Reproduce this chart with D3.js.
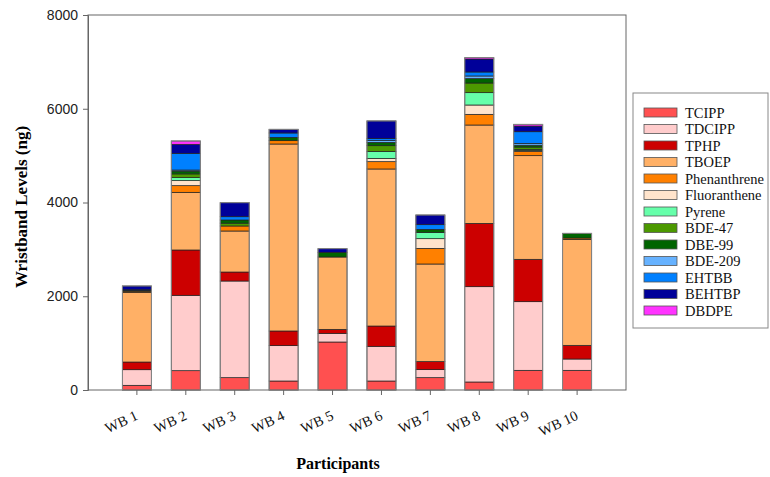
<!DOCTYPE html>
<html>
<head>
<meta charset="utf-8">
<script src="https://cdn.jsdelivr.net/npm/d3@7"></script>
<style>
    body { margin: 0; background: #fff; }
    svg { display: block; }
</style>
</head>
<body>
<svg id="canvas" width="770" height="477"></svg>
<script>
// participants and compounds
const participants = ["WB 1", "WB 2", "WB 3", "WB 4", "WB 5", "WB 6", "WB 7", "WB 8", "WB 9", "WB 10"];
const compounds = ["TCIPP", "TDCIPP", "TPHP", "TBOEP", "Phenanthrene", "Fluoranthene", "Pyrene",
                   "BDE-47", "DBE-99", "BDE-209", "EHTBB", "BEHTBP", "DBDPE"];
const colors = ["#ff5050", "#ffcccc", "#cc0000", "#ffb066", "#ff8000", "#ffe4cc", "#66ffaa",
                "#4c9900", "#006400", "#66b2ff", "#0080ff", "#000099", "#ff33ff"];

// levels in ng, one value per participant
const TCIPP        = [100, 412, 263, 192, 1024, 192, 263, 171, 420, 420];
const TDCIPP       = [333, 1608, 2062, 754, 185, 740, 171, 2033, 1464, 241];
const TPHP         = [164, 967, 192, 313, 85, 433, 171, 1351, 904, 292];
const TBOEP        = [1487, 1230, 875, 3989, 1543, 3350, 2083, 2098, 2211, 2261];
const Phenanthrene = [25, 142, 107, 71, 0, 156, 334, 228, 93, 28];
const Fluoranthene = [0, 107, 0, 0, 0, 71, 206, 199, 20, 0];
const Pyrene       = [0, 64, 0, 0, 0, 149, 135, 263, 20, 0];
const BDE47        = [5, 80, 60, 0, 0, 121, 0, 206, 50, 0];
const DBE99        = [15, 60, 68, 71, 100, 71, 64, 93, 40, 100];
const BDE209       = [0, 23, 0, 0, 0, 40, 0, 57, 40, 0];
const EHTBB        = [10, 356, 70, 93, 0, 40, 100, 85, 248, 0];
const BEHTBP       = [80, 192, 299, 78, 78, 377, 206, 277, 121, 0];
const DBDPE        = [0, 71, 0, 0, 0, 0, 0, 29, 36, 0];

const series = [TCIPP, TDCIPP, TPHP, TBOEP, Phenanthrene, Fluoranthene, Pyrene,
                BDE47, DBE99, BDE209, EHTBB, BEHTBP, DBDPE];
const yTicks = [0, 2000, 4000, 6000, 8000];

const rows = participants.map((p, i) => {
    const row = {participant: p};
    compounds.forEach((c, j) => { row[c] = series[j][i]; });
    return row;
});

const svg = d3.select('#canvas');
const plotLeft = 88, plotRight = 626, plotTop = 15, plotBottom = 390;

const x = d3.scaleBand()
    .domain(participants)
    .range([plotLeft, plotRight])
    .paddingInner(0.407)
    .paddingOuter(0.703);

const y = d3.scaleLinear()
    .domain([0, 8000])
    .range([plotBottom, plotTop]);

const color = d3.scaleOrdinal().domain(compounds).range(colors);

const stacked = d3.stack().keys(compounds)(rows);

// frame
svg.append('rect')
    .attr('x', plotLeft).attr('y', plotTop)
    .attr('width', plotRight - plotLeft).attr('height', plotBottom - plotTop)
    .attr('fill', 'none')
    .attr('stroke', '#666')
    .attr('stroke-width', 1);

// bars
const layers = svg.append('g')
    .selectAll('g')
    .data(stacked)
    .join('g')
    .attr('fill', d => color(d.key));

layers.selectAll('rect')
    .data(d => d.filter(s => s[1] - s[0] > 0))
    .join('rect')
    .attr('x', d => x(d.data.participant))
    .attr('y', d => y(d[1]))
    .attr('width', x.bandwidth())
    .attr('height', d => y(d[0]) - y(d[1]))
    .attr('stroke', '#222')
    .attr('stroke-width', 0.7);

// outline of each bar
svg.append('g')
    .selectAll('rect')
    .data(rows)
    .join('rect')
    .attr('x', d => x(d.participant))
    .attr('y', d => y(d3.sum(compounds, c => d[c])))
    .attr('width', x.bandwidth())
    .attr('height', d => y(0) - y(d3.sum(compounds, c => d[c])))
    .attr('fill', 'none')
    .attr('stroke', '#888')
    .attr('stroke-width', 1);

// y axis
const yAxis = svg.append('g')
    .attr('transform', `translate(${plotLeft},0)`)
    .call(d3.axisLeft(y).tickValues(yTicks).tickSize(5).tickPadding(5).tickFormat(d3.format('d')));
yAxis.select('.domain').attr('stroke', '#666');
yAxis.selectAll('line').attr('stroke', '#666');
yAxis.selectAll('text')
    .attr('font-family', 'Liberation Sans, Arial, sans-serif')
    .attr('font-size', 14)
    .attr('fill', '#222');

// x axis
const xAxis = svg.append('g')
    .attr('transform', `translate(0,${plotBottom})`)
    .call(d3.axisBottom(x).tickSize(5).tickSizeOuter(0));
xAxis.select('.domain').remove();
xAxis.selectAll('line').attr('stroke', '#666');
xAxis.selectAll('text')
    .attr('font-family', 'Liberation Serif, Times New Roman, serif')
    .attr('font-size', 14.5)
    .attr('fill', '#111')
    .attr('text-anchor', 'end')
    .attr('transform', 'translate(2,29) rotate(-25)')
    .attr('y', 0)
    .attr('dy', 0);

// axis titles
svg.append('text')
    .attr('transform', 'translate(27,207) rotate(-90)')
    .attr('text-anchor', 'middle')
    .attr('font-family', 'Liberation Serif, Times New Roman, serif')
    .attr('font-weight', 'bold')
    .attr('font-size', 17)
    .text('Wristband Levels (ng)');

svg.append('text')
    .attr('x', 338)
    .attr('y', 469)
    .attr('text-anchor', 'middle')
    .attr('font-family', 'Liberation Serif, Times New Roman, serif')
    .attr('font-weight', 'bold')
    .attr('font-size', 16)
    .text('Participants');

// legend
const legend = svg.append('g');
legend.append('rect')
    .attr('x', 633).attr('y', 93)
    .attr('width', 135).attr('height', 235)
    .attr('fill', '#fff')
    .attr('stroke', '#888')
    .attr('stroke-width', 1);

const items = legend.selectAll('g.item')
    .data(compounds)
    .join('g')
    .attr('class', 'item')
    .attr('transform', (d, i) => `translate(644,${108 + i * 16.5})`);

items.append('rect')
    .attr('width', 33).attr('height', 9)
    .attr('fill', d => color(d))
    .attr('stroke', '#555')
    .attr('stroke-width', 0.8);

items.append('text')
    .attr('x', 41)
    .attr('y', 9.5)
    .attr('font-family', 'Liberation Serif, Times New Roman, serif')
    .attr('font-size', 14.5)
    .attr('fill', '#111')
    .text(d => d);
</script>
</body>
</html>
